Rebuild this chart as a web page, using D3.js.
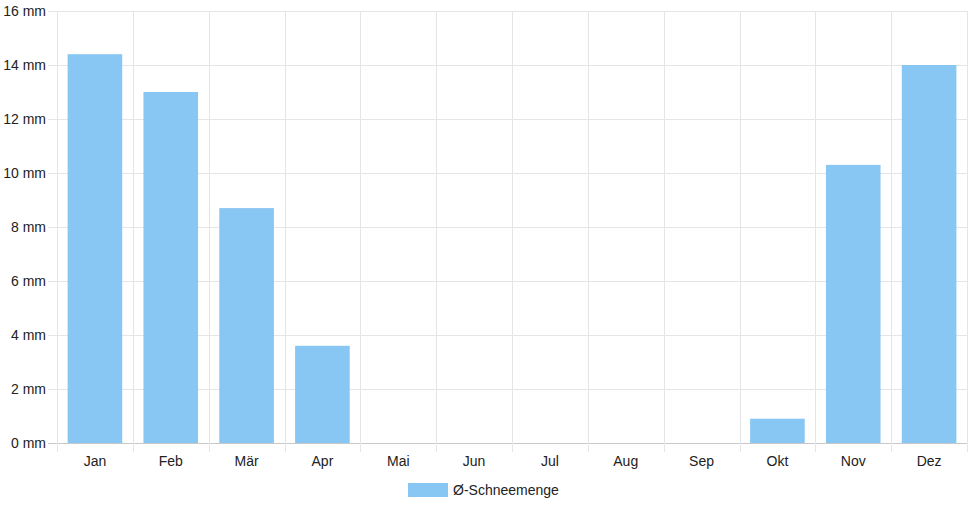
<!DOCTYPE html>
<html><head><meta charset="utf-8">
<script src="https://cdn.jsdelivr.net/npm/d3@7"></script>
<style>body{margin:0;background:#fff}svg{display:block;font-family:"Liberation Sans",Arial,Helvetica,sans-serif}</style>
</head><body><svg id="c" width="968" height="508"></svg>
<script>
const categories = ["Jan","Feb","Mär","Apr","Mai","Jun","Jul","Aug","Sep","Okt","Nov","Dez"];
const snow = [14.4,13.0,8.7,3.6,0,0,0,0,0,0.9,10.3,14.0];
const yTicks = [0,2,4,6,8,10,12,14,16];
const seriesName = "Ø-Schneemenge";

const svg = d3.select("#c");
const L = 57, R = 967, T = 11, B = 443;
const x = d3.scaleBand().domain(categories).range([L, R]).paddingInner(0).paddingOuter(0);
const y = d3.scaleLinear().domain([0,16]).range([B, T]);
const grid = "#e5e5e5", textCol = "#222";

// horizontal grid
svg.append("g").selectAll("line").data(yTicks).join("line")
  .attr("x1", L-9).attr("x2", R).attr("y1", d=>Math.round(y(d))+0.5).attr("y2", d=>Math.round(y(d))+0.5)
  .attr("stroke", d=>d===0? "#c8c8c8":grid).attr("stroke-width",1);
// vertical grid
const bounds = categories.map(c=>x(c)).concat([R]);
svg.append("g").selectAll("line").data(bounds).join("line")
  .attr("x1", d=>Math.round(d)+0.5).attr("x2", d=>Math.round(d)+0.5)
  .attr("y1", T).attr("y2", B+9).attr("stroke", grid);

// y labels
svg.append("g").selectAll("text").data(yTicks).join("text")
  .attr("x", 46).attr("y", d=>y(d)).attr("dy","0.35em").attr("text-anchor","end")
  .attr("font-size",14).attr("fill",textCol).text(d=>d+" mm");
// x labels
svg.append("g").selectAll("text").data(categories).join("text")
  .attr("x", d=>x(d)+x.bandwidth()/2).attr("y", 466).attr("text-anchor","middle")
  .attr("font-size",14).attr("fill",textCol).text(d=>d);

// bars
const bw = x.bandwidth()*0.72;
svg.append("g").selectAll("rect").data(snow.map((v,i)=>({c:categories[i],v}))).join("rect")
  .attr("x", d=>x(d.c)+(x.bandwidth()-bw)/2).attr("width", bw)
  .attr("y", d=>y(d.v)).attr("height", d=>B-y(d.v))
  .attr("fill","#88c6f3");

// legend
const lg = svg.append("g");
lg.append("rect").attr("x",408).attr("y",483).attr("width",40).attr("height",14).attr("fill","#88c6f3");
lg.append("text").attr("x",453).attr("y",495).attr("font-size",14).attr("fill",textCol).text(seriesName);
</script></body></html>
